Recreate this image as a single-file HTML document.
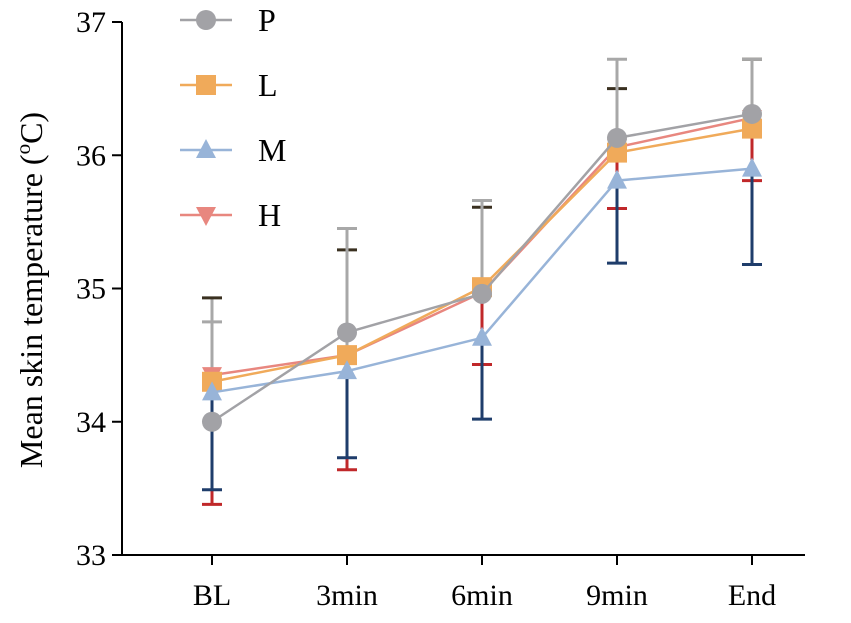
<!DOCTYPE html>
<html><head><meta charset="utf-8"><style>
body{margin:0;background:#fff}
svg text{font-family:"Liberation Serif",serif;fill:#000}
</style></head><body>
<svg id="chart" width="851" height="618">
<g id="axes"></g><g id="series"></g><g id="legend"></g>
<text transform="translate(42,290) rotate(-90)" text-anchor="middle" font-size="32">Mean skin temperature (<tspan baseline-shift="super" font-size="21">o</tspan>C)</text>
</svg>
<script>
const categories=["BL","3min","6min","9min","End"];
const yTicks=[33,34,35,36,37];
const seriesNames=["P","L","M","H"];
const pMean=[34.00,34.67,34.96,36.13,36.31];
const pErr=[0.75,0.78,0.70,0.59,0.41];
const lMean=[34.30,34.50,35.01,36.02,36.20];
const lErr=[0.63,0.79,0.60,0.48,0.52];
const mMean=[34.22,34.38,34.63,35.81,35.90];
const mErr=[0.73,0.65,0.61,0.62,0.72];
const hMean=[34.35,34.50,34.97,36.06,36.28];
const hErr=[0.97,0.86,0.54,0.46,0.47];

const NS="http://www.w3.org/2000/svg";
const x0=122,y0=555,yTop=22;
const xs=i=>212+i*135;
const ys=v=>y0-(v-33)/(37-33)*(y0-yTop);
function el(tag,attrs,parent){const e=document.createElementNS(NS,tag);for(const k in attrs)e.setAttribute(k,attrs[k]);parent.appendChild(e);return e;}
const axes=document.getElementById('axes'),ser=document.getElementById('series'),leg=document.getElementById('legend');
let a=el('line',{x1:x0,y1:yTop,x2:x0,y2:y0,stroke:'#000','stroke-width':2},axes);

a=el('line',{x1:x0-1,y1:y0,x2:805,y2:y0,stroke:'#000','stroke-width':2},axes);

yTicks.forEach(v=>{
 el('line',{x1:x0-10,y1:ys(v),x2:x0,y2:ys(v),stroke:'#000','stroke-width':2},axes);
 const t=el('text',{x:x0-16,y:ys(v)+10,'text-anchor':'end','font-size':30},axes);t.textContent=v;
 
});
categories.forEach((c,i)=>{
 el('line',{x1:xs(i),y1:y0,x2:xs(i),y2:y0+10,stroke:'#000','stroke-width':2},axes);
 const t=el('text',{x:xs(i),y:y0+50,'text-anchor':'middle','font-size':30},axes);t.textContent=c;
 
});
const defs=[
 {name:"P",mean:pMean,err:pErr,dir:1,col:"#a2a2a6",ecol:"#a8a8a8",ccol:"#a8a8a8",m:"circle"},
 {name:"L",mean:lMean,err:lErr,dir:1,col:"#f0aa5a",ecol:"#a8a8a8",ccol:"#3a3020",m:"square"},
 {name:"M",mean:mMean,err:mErr,dir:-1,col:"#98b4d8",ecol:"#1f3d6b",ccol:"#1f3d6b",m:"tri"},
 {name:"H",mean:hMean,err:hErr,dir:-1,col:"#e8877f",ecol:"#c0282a",ccol:"#c0282a",m:"dtri"}];
function marker(m,x,y,col,g){
 if(m=="circle")return el('circle',{cx:x,cy:y,r:10,fill:col},g);
 if(m=="square")return el('rect',{x:x-10,y:y-10,width:20,height:20,fill:col},g);
 if(m=="tri")return el('polygon',{points:`${x},${y-11} ${x-10},${y+8} ${x+10},${y+8}`,fill:col},g);
 return el('polygon',{points:`${x},${y+11} ${x-10},${y-8} ${x+10},${y-8}`,fill:col},g);
}
[1,0,3,2].forEach(k=>{const d=defs[k];
 const g=el('g',{},ser);
 d.mean.forEach((v,i)=>{
  const e=v+d.dir*d.err[i];
  el('line',{x1:xs(i),y1:ys(v),x2:xs(i),y2:ys(e),stroke:d.ecol,'stroke-width':3},g);
  el('line',{x1:xs(i)-10,y1:ys(e),x2:xs(i)+10,y2:ys(e),stroke:d.ccol,'stroke-width':3},g);
 });
});
[3,1,2,0].forEach(k=>{const d=defs[k];
 const g=el('g',{},ser);
 el('polyline',{points:d.mean.map((v,i)=>xs(i)+','+ys(v)).join(' '),fill:'none',stroke:d.col,'stroke-width':2.5},g);
 d.mean.forEach((v,i)=>{const mk=marker(d.m,xs(i),ys(v),d.col,g);
  });
});
defs.forEach((d,k)=>{
 const y=20+k*65;
 const g=el('g',{},leg);
 el('line',{x1:180,y1:y,x2:232,y2:y,stroke:d.col,'stroke-width':2.5},g);
 marker(d.m,206,y,d.col,g);
 const t=el('text',{x:258,y:y+11,'font-size':32},g);t.textContent=d.name;
});
</script>
</body></html>
